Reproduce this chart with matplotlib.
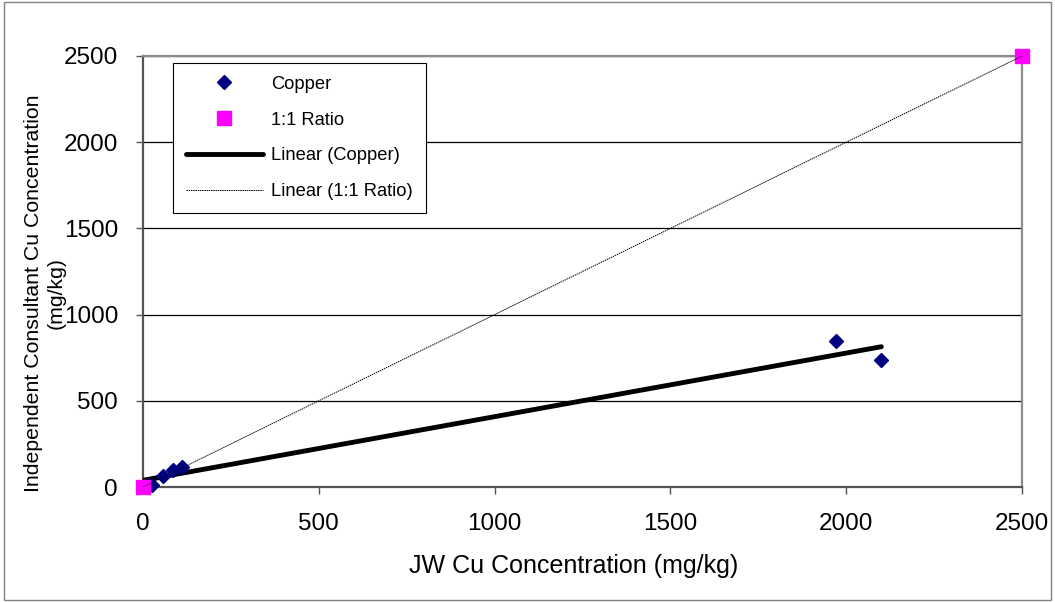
import matplotlib.pyplot as plt
import numpy as np

plt.rcParams['font.family'] = ['Liberation Sans', 'DejaVu Sans']

# Copper: JW vs independent consultant (mg/kg)
jw_cu = [5, 25, 57, 85, 110, 1970, 2100]
ic_cu = [5, 12, 65, 100, 115, 847, 735]

# 1:1 reference points
ratio_x = [0, 2500]
ratio_y = [0, 2500]

W, H = 1055, 602
fig = plt.figure(figsize=(W / 100, H / 100), dpi=100)
ax = fig.add_axes([143 / W, 1 - 487 / H, (1022 - 143) / W, (487 - 56) / H])

# border around the whole chart
fig.patches.append(plt.Rectangle((0.004, 0.004), 0.992, 0.992, transform=fig.transFigure,
                                 fill=False, edgecolor='#808080', linewidth=1))

ax.set_xlim(0, 2500)
ax.set_ylim(0, 2500)
ax.set_yticks(range(0, 2501, 500))
ax.set_xticks(range(0, 2501, 500))
ax.yaxis.grid(True, color='black', linewidth=0.9)
ax.set_axisbelow(True)

for s in ['top', 'right']:
    ax.spines[s].set_color('#8c8c8c')
    ax.spines[s].set_linewidth(1.6)
for s in ['left', 'bottom']:
    ax.spines[s].set_color('#555555')
    ax.spines[s].set_linewidth(1.6)

ax.tick_params(axis='y', direction='out', length=5, width=1, pad=13, labelsize=17.5, color='#555555')
ax.tick_params(axis='x', direction='out', length=5, width=1, pad=14, labelsize=17.5, color='#555555')

ax.plot(jw_cu, ic_cu, linestyle='none', marker='D', markersize=7.5,
        color='#000080', label='Copper', clip_on=False, zorder=4)
ax.plot(ratio_x, ratio_y, linestyle='none', marker='s', markersize=10,
        color='#FF00FF', label='1:1 Ratio', clip_on=False, zorder=5)

# linear trendlines
m, b = np.polyfit(jw_cu, ic_cu, 1)
xs = np.array([0, max(jw_cu)])
ax.plot(xs, m * xs + b, color='black', linewidth=3.5, label='Linear (Copper)',
        solid_capstyle='round', zorder=3)
m2, b2 = np.polyfit(ratio_x, ratio_y, 1)
xs2 = np.array([0, max(ratio_x)])
ax.plot(xs2, m2 * xs2 + b2, color='black', linewidth=0.7, linestyle=(0, (1.5, 0.8)),
        label='Linear (1:1 Ratio)', zorder=6)

leg = ax.legend(loc='upper left', bbox_to_anchor=(30 / 879, 1 - 7 / 431), fontsize=13.2,
                frameon=True, fancybox=False, edgecolor='black', framealpha=1,
                handlelength=4.2, labelspacing=1.02, borderpad=0.7, handletextpad=0.45,
                borderaxespad=0)
leg.get_frame().set_linewidth(0.8)

ax.set_xlabel('JW Cu Concentration (mg/kg)', fontsize=18)
ax.xaxis.set_label_coords(0.49, -0.1833)
ax.xaxis.label.set_va('center')
ax.set_ylabel('Independent Consultant Cu Concentration\n(mg/kg)', fontsize=15.3)
ax.yaxis.set_label_coords(-0.1115, 0.45)
ax.yaxis.label.set_va('center')

fig.savefig('out.png', dpi=100)
